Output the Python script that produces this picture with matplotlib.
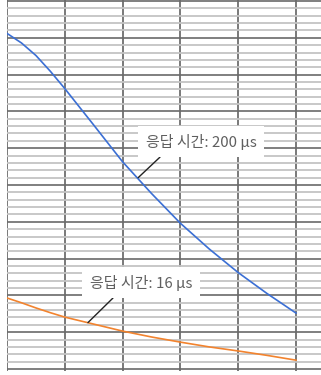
import matplotlib
matplotlib.use("Agg")
import matplotlib.pyplot as plt
import numpy as np

plt.rcParams['font.family'] = ['Noto Sans CJK KR', 'DejaVu Sans']

# values (grid units)
x = [0, 0.25, 0.5, 0.75, 1, 1.5, 2, 2.5, 3, 3.5, 4, 4.5, 5]
slow = [9.12, 8.86, 8.52, 8.09, 7.62, 6.63, 5.63, 4.77, 3.96, 3.26, 2.62, 2.05, 1.52]   # 200 us
fast = [1.93, 1.80, 1.66, 1.53, 1.41, 1.22, 1.03, 0.87, 0.73, 0.60, 0.49, 0.37, 0.24]  # 16 us

label_slow = "응답 시간: 200 µs"
label_fast = "응답 시간: 16 µs"

fig = plt.figure(figsize=(3.21, 3.75), dpi=100)
ax = fig.add_axes([6.5 / 321, 4.5 / 375, 1 - 6.5 / 321, 370.5 / 375])
ax.set_xlim(-0.5 / 57.8, 314 / 57.8)
ax.set_ylim(-1.5 / 36.8, 369 / 36.8)

# chart paper grid
ax.set_xticks(np.arange(0, 6))
ax.set_yticks(np.arange(0, 11))
ax.set_yticks(np.arange(0, 10.01, 0.2), minor=True)
ax.grid(True, which='minor', axis='y', color='#c4c4c4', lw=1.3)
ax.grid(True, which='major', axis='y', color='#6a6a6a', lw=1.2)
ax.grid(True, which='major', axis='x', color='#555555', lw=1.1)
ax.set_axisbelow(True)
ax.tick_params(which='both', length=0, labelbottom=False, labelleft=False)
for s in ax.spines.values():
    s.set_visible(False)

ax.plot(x, slow, color='#3b6fd4', lw=1.2)
ax.plot(x, fast, color='#f2832e', lw=1.2)

box = dict(boxstyle='square,pad=0.5', fc='white', ec='none')
arrow = dict(arrowstyle='-', color='#222222', lw=1.0, shrinkA=0, shrinkB=0)

ax.annotate(label_slow, xy=(2.27, 5.20), xytext=(3.36, 6.18), ha='center', va='center',
            fontsize=10.8, color='#5f5f5f', bbox=box,
            arrowprops=dict(arrow, relpos=(0.2, 0.0)))
ax.annotate(label_fast, xy=(1.40, 1.26), xytext=(2.32, 2.35), ha='center', va='center',
            fontsize=10.8, color='#5f5f5f', bbox=box,
            arrowprops=dict(arrow, relpos=(0.3, 0.0)))

fig.savefig("out.png", dpi=100)
